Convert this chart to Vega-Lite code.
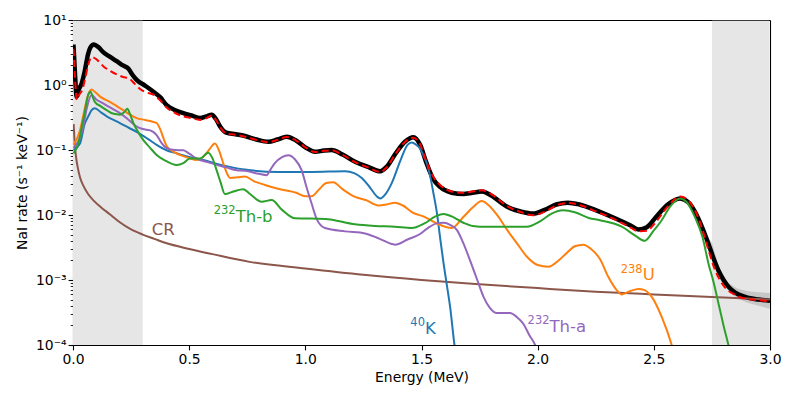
{
  "$schema": "https://vega.github.io/schema/vega-lite/v6.json",
  "width": 697,
  "height": 325,
  "autosize": {"type": "none"},
  "padding": {"left": 73, "top": 20, "right": 23, "bottom": 52},
  "background": "white",
  "config": {
    "font": "DejaVu Sans",
    "view": {"stroke": null},
    "axis": {"grid": false, "domainColor": "#000", "tickColor": "#000", "labelColor": "#000", "titleColor": "#000", "labelFont": "DejaVu Sans", "titleFont": "DejaVu Sans", "labelFontSize": 13.9, "titleFontSize": 13.9, "titleFontWeight": "normal", "domainWidth": 1.1, "tickWidth": 1.1, "zindex": 1}
  },
  "datasets": {
    "shade": [
      {"E": 0, "E2": 0.3, "v": 0.0001, "v2": 9.7},
      {"E": 2.75, "E2": 2.997, "v": 0.0001, "v2": 9.7}
    ],
    "band": [
      {"E": 2.72, "v": 0.0044, "v2": 0.0052},
      {"E": 2.75, "v": 0.0030, "v2": 0.0038},
      {"E": 2.78, "v": 0.00122, "v2": 0.00158},
      {"E": 2.82, "v": 0.00068, "v2": 0.0009},
      {"E": 2.86, "v": 0.00052, "v2": 0.00074},
      {"E": 2.9, "v": 0.00045, "v2": 0.00068},
      {"E": 2.95, "v": 0.0004, "v2": 0.00065},
      {"E": 3.0, "v": 0.00036, "v2": 0.00063}
    ],
    "total": [
      {"E":0.002,"v":4.2},{"E":0.008,"v":1.6},{"E":0.016,"v":0.66},{"E":0.025,"v":0.85},{"E":0.037,"v":1.05},{"E":0.05,"v":1.6},{"E":0.065,"v":3.0},{"E":0.075,"v":3.8},{"E":0.09,"v":4.2},{"E":0.11,"v":3.8},{"E":0.13,"v":3.2},{"E":0.16,"v":2.7},{"E":0.19,"v":2.3},{"E":0.215,"v":2.0},{"E":0.238,"v":1.8},{"E":0.255,"v":1.45},{"E":0.274,"v":1.2},{"E":0.31,"v":0.98},{"E":0.346,"v":0.79},{"E":0.375,"v":0.65},{"E":0.403,"v":0.49},{"E":0.44,"v":0.41},{"E":0.475,"v":0.37},{"E":0.51,"v":0.34},{"E":0.547,"v":0.31},{"E":0.575,"v":0.33},{"E":0.597,"v":0.35},{"E":0.615,"v":0.3},{"E":0.633,"v":0.23},{"E":0.66,"v":0.185},{"E":0.7,"v":0.175},{"E":0.74,"v":0.164},{"E":0.79,"v":0.145},{"E":0.841,"v":0.134},{"E":0.88,"v":0.145},{"E":0.92,"v":0.16},{"E":0.96,"v":0.14},{"E":1.0,"v":0.11},{"E":1.042,"v":0.094},{"E":1.08,"v":0.098},{"E":1.113,"v":0.1},{"E":1.16,"v":0.085},{"E":1.214,"v":0.066},{"E":1.27,"v":0.055},{"E":1.322,"v":0.047},{"E":1.35,"v":0.055},{"E":1.39,"v":0.09},{"E":1.43,"v":0.135},{"E":1.465,"v":0.157},{"E":1.494,"v":0.12},{"E":1.52,"v":0.065},{"E":1.55,"v":0.036},{"E":1.58,"v":0.027},{"E":1.63,"v":0.022},{"E":1.68,"v":0.021},{"E":1.72,"v":0.022},{"E":1.76,"v":0.023},{"E":1.8,"v":0.02},{"E":1.867,"v":0.0135},{"E":1.93,"v":0.0112},{"E":1.981,"v":0.0105},{"E":2.03,"v":0.012},{"E":2.08,"v":0.0145},{"E":2.13,"v":0.0155},{"E":2.18,"v":0.0145},{"E":2.247,"v":0.012},{"E":2.333,"v":0.0089},{"E":2.4,"v":0.0069},{"E":2.434,"v":0.006},{"E":2.47,"v":0.0065},{"E":2.505,"v":0.0089},{"E":2.56,"v":0.0145},{"E":2.613,"v":0.018},{"E":2.65,"v":0.0155},{"E":2.677,"v":0.0112},{"E":2.71,"v":0.0062},{"E":2.735,"v":0.0036},{"E":2.758,"v":0.0021},{"E":2.778,"v":0.0014},{"E":2.8,"v":0.001},{"E":2.821,"v":0.00079},{"E":2.85,"v":0.00064},{"E":2.893,"v":0.00055},{"E":2.95,"v":0.0005},{"E":3.0,"v":0.00048}
    ],
    "measured": [
      {"E":0.002,"v":3.6},{"E":0.008,"v":1.4},{"E":0.017,"v":0.59},{"E":0.028,"v":0.72},{"E":0.04,"v":0.84},{"E":0.055,"v":1.4},{"E":0.068,"v":2.2},{"E":0.08,"v":2.7},{"E":0.1,"v":2.5},{"E":0.13,"v":1.95},{"E":0.16,"v":1.65},{"E":0.19,"v":1.45},{"E":0.215,"v":1.33},{"E":0.24,"v":1.27},{"E":0.265,"v":1.05},{"E":0.29,"v":0.86},{"E":0.32,"v":0.76},{"E":0.35,"v":0.7},{"E":0.375,"v":0.58},{"E":0.403,"v":0.45},{"E":0.44,"v":0.37},{"E":0.475,"v":0.33},{"E":0.51,"v":0.31},{"E":0.547,"v":0.29},{"E":0.575,"v":0.31},{"E":0.597,"v":0.34},{"E":0.615,"v":0.29},{"E":0.633,"v":0.225},{"E":0.66,"v":0.18},{"E":0.7,"v":0.172},{"E":0.74,"v":0.16},{"E":0.79,"v":0.143},{"E":0.841,"v":0.132},{"E":0.88,"v":0.143},{"E":0.92,"v":0.158},{"E":0.96,"v":0.14},{"E":1.0,"v":0.11},{"E":1.042,"v":0.093},{"E":1.08,"v":0.097},{"E":1.113,"v":0.099},{"E":1.16,"v":0.084},{"E":1.214,"v":0.065},{"E":1.27,"v":0.054},{"E":1.322,"v":0.046},{"E":1.35,"v":0.054},{"E":1.39,"v":0.089},{"E":1.43,"v":0.134},{"E":1.465,"v":0.155},{"E":1.494,"v":0.122},{"E":1.52,"v":0.068},{"E":1.55,"v":0.039},{"E":1.58,"v":0.029},{"E":1.63,"v":0.023},{"E":1.68,"v":0.022},{"E":1.72,"v":0.023},{"E":1.76,"v":0.024},{"E":1.8,"v":0.021},{"E":1.867,"v":0.0138},{"E":1.93,"v":0.011},{"E":1.981,"v":0.0099},{"E":2.03,"v":0.0112},{"E":2.08,"v":0.014},{"E":2.13,"v":0.0153},{"E":2.18,"v":0.0143},{"E":2.247,"v":0.0115},{"E":2.333,"v":0.0085},{"E":2.4,"v":0.0064},{"E":2.434,"v":0.0056},{"E":2.47,"v":0.0057},{"E":2.505,"v":0.0075},{"E":2.56,"v":0.0135},{"E":2.613,"v":0.0193},{"E":2.65,"v":0.0165},{"E":2.677,"v":0.0118},{"E":2.71,"v":0.0058},{"E":2.735,"v":0.0029},{"E":2.758,"v":0.0016},{"E":2.778,"v":0.0011},{"E":2.8,"v":0.00082},{"E":2.85,"v":0.00059},{"E":2.9,"v":0.00051},{"E":2.95,"v":0.00049},{"E":3.0,"v":0.00047}
    ],
    "components": [
      {"s":"CR","E":0.003,"v":0.25},{"s":"CR","E":0.006,"v":0.15},{"s":"CR","E":0.01,"v":0.1},{"s":"CR","E":0.015,"v":0.07},{"s":"CR","E":0.02,"v":0.055},{"s":"CR","E":0.03,"v":0.038},{"s":"CR","E":0.045,"v":0.028},{"s":"CR","E":0.065,"v":0.021},{"s":"CR","E":0.09,"v":0.0165},{"s":"CR","E":0.12,"v":0.0132},{"s":"CR","E":0.16,"v":0.0102},{"s":"CR","E":0.2,"v":0.0078},{"s":"CR","E":0.25,"v":0.006},{"s":"CR","E":0.3,"v":0.005},{"s":"CR","E":0.35,"v":0.0043},{"s":"CR","E":0.4,"v":0.0037},{"s":"CR","E":0.5,"v":0.003},{"s":"CR","E":0.6,"v":0.0025},{"s":"CR","E":0.76,"v":0.0019},{"s":"CR","E":1.0,"v":0.0015},{"s":"CR","E":1.25,"v":0.0012},{"s":"CR","E":1.5,"v":0.001},{"s":"CR","E":1.75,"v":0.00086},{"s":"CR","E":2.0,"v":0.00075},{"s":"CR","E":2.25,"v":0.00066},{"s":"CR","E":2.5,"v":0.0006},{"s":"CR","E":2.75,"v":0.00055},{"s":"CR","E":3.0,"v":0.0005},
      {"s":"K","E":0.002,"v":0.1},{"s":"K","E":0.03,"v":0.126},{"s":"K","E":0.05,"v":0.25},{"s":"K","E":0.066,"v":0.33},{"s":"K","E":0.08,"v":0.41},{"s":"K","E":0.094,"v":0.44},{"s":"K","E":0.12,"v":0.38},{"s":"K","E":0.145,"v":0.33},{"s":"K","E":0.175,"v":0.29},{"s":"K","E":0.202,"v":0.26},{"s":"K","E":0.24,"v":0.22},{"s":"K","E":0.274,"v":0.19},{"s":"K","E":0.32,"v":0.15},{"s":"K","E":0.36,"v":0.12},{"s":"K","E":0.4,"v":0.1},{"s":"K","E":0.446,"v":0.089},{"s":"K","E":0.5,"v":0.078},{"s":"K","E":0.561,"v":0.07},{"s":"K","E":0.62,"v":0.061},{"s":"K","E":0.676,"v":0.055},{"s":"K","E":0.74,"v":0.05},{"s":"K","E":0.884,"v":0.046},{"s":"K","E":1.027,"v":0.046},{"s":"K","E":1.171,"v":0.047},{"s":"K","E":1.21,"v":0.044},{"s":"K","E":1.243,"v":0.037},{"s":"K","E":1.28,"v":0.026},{"s":"K","E":1.31,"v":0.019},{"s":"K","E":1.322,"v":0.018},{"s":"K","E":1.345,"v":0.021},{"s":"K","E":1.372,"v":0.031},{"s":"K","E":1.41,"v":0.07},{"s":"K","E":1.44,"v":0.12},{"s":"K","E":1.458,"v":0.13},{"s":"K","E":1.475,"v":0.122},{"s":"K","E":1.494,"v":0.105},{"s":"K","E":1.51,"v":0.08},{"s":"K","E":1.523,"v":0.062},{"s":"K","E":1.537,"v":0.04},{"s":"K","E":1.551,"v":0.022},{"s":"K","E":1.566,"v":0.011},{"s":"K","E":1.58,"v":0.0045},{"s":"K","E":1.595,"v":0.0018},{"s":"K","E":1.61,"v":0.0008},{"s":"K","E":1.623,"v":0.00039},{"s":"K","E":1.642,"v":0.0001},{"s":"K","E":1.66,"v":0.00004},
      {"s":"U","E":0.002,"v":0.12},{"s":"U","E":0.03,"v":0.2},{"s":"U","E":0.045,"v":0.35},{"s":"U","E":0.059,"v":0.59},{"s":"U","E":0.07,"v":0.78},{"s":"U","E":0.08,"v":0.85},{"s":"U","E":0.095,"v":0.78},{"s":"U","E":0.12,"v":0.65},{"s":"U","E":0.159,"v":0.55},{"s":"U","E":0.19,"v":0.47},{"s":"U","E":0.216,"v":0.41},{"s":"U","E":0.245,"v":0.35},{"s":"U","E":0.274,"v":0.31},{"s":"U","E":0.31,"v":0.29},{"s":"U","E":0.346,"v":0.27},{"s":"U","E":0.36,"v":0.26},{"s":"U","E":0.375,"v":0.21},{"s":"U","E":0.39,"v":0.15},{"s":"U","E":0.403,"v":0.115},{"s":"U","E":0.43,"v":0.095},{"s":"U","E":0.46,"v":0.084},{"s":"U","E":0.5,"v":0.075},{"s":"U","E":0.532,"v":0.07},{"s":"U","E":0.56,"v":0.078},{"s":"U","E":0.585,"v":0.1},{"s":"U","E":0.611,"v":0.126},{"s":"U","E":0.63,"v":0.095},{"s":"U","E":0.647,"v":0.062},{"s":"U","E":0.665,"v":0.042},{"s":"U","E":0.676,"v":0.037},{"s":"U","E":0.71,"v":0.038},{"s":"U","E":0.74,"v":0.039},{"s":"U","E":0.78,"v":0.033},{"s":"U","E":0.826,"v":0.029},{"s":"U","E":0.87,"v":0.026},{"s":"U","E":0.912,"v":0.024},{"s":"U","E":0.96,"v":0.022},{"s":"U","E":1.0,"v":0.0195},{"s":"U","E":1.027,"v":0.0195},{"s":"U","E":1.06,"v":0.025},{"s":"U","E":1.09,"v":0.031},{"s":"U","E":1.12,"v":0.032},{"s":"U","E":1.16,"v":0.025},{"s":"U","E":1.214,"v":0.019},{"s":"U","E":1.26,"v":0.017},{"s":"U","E":1.314,"v":0.014},{"s":"U","E":1.35,"v":0.0145},{"s":"U","E":1.386,"v":0.0155},{"s":"U","E":1.42,"v":0.014},{"s":"U","E":1.46,"v":0.011},{"s":"U","E":1.515,"v":0.0093},{"s":"U","E":1.566,"v":0.0074},{"s":"U","E":1.63,"v":0.0063},{"s":"U","E":1.68,"v":0.0093},{"s":"U","E":1.72,"v":0.013},{"s":"U","E":1.759,"v":0.0164},{"s":"U","E":1.79,"v":0.014},{"s":"U","E":1.83,"v":0.0095},{"s":"U","E":1.867,"v":0.006},{"s":"U","E":1.91,"v":0.0037},{"s":"U","E":1.953,"v":0.0023},{"s":"U","E":2.0,"v":0.0017},{"s":"U","E":2.046,"v":0.0016},{"s":"U","E":2.09,"v":0.002},{"s":"U","E":2.125,"v":0.0026},{"s":"U","E":2.16,"v":0.0033},{"s":"U","E":2.196,"v":0.0035},{"s":"U","E":2.23,"v":0.003},{"s":"U","E":2.268,"v":0.0021},{"s":"U","E":2.305,"v":0.0011},{"s":"U","E":2.34,"v":0.0007},{"s":"U","E":2.362,"v":0.0006},{"s":"U","E":2.4,"v":0.00068},{"s":"U","E":2.434,"v":0.00073},{"s":"U","E":2.46,"v":0.0007},{"s":"U","E":2.491,"v":0.00055},{"s":"U","E":2.534,"v":0.00027},{"s":"U","E":2.577,"v":0.0001},{"s":"U","E":2.6,"v":0.00005},
      {"s":"Th-a","E":0.002,"v":0.107},{"s":"Th-a","E":0.044,"v":0.23},{"s":"Th-a","E":0.06,"v":0.45},{"s":"Th-a","E":0.08,"v":0.7},{"s":"Th-a","E":0.1,"v":0.6},{"s":"Th-a","E":0.13,"v":0.52},{"s":"Th-a","E":0.165,"v":0.44},{"s":"Th-a","E":0.202,"v":0.37},{"s":"Th-a","E":0.24,"v":0.29},{"s":"Th-a","E":0.274,"v":0.23},{"s":"Th-a","E":0.3,"v":0.21},{"s":"Th-a","E":0.332,"v":0.2},{"s":"Th-a","E":0.345,"v":0.19},{"s":"Th-a","E":0.36,"v":0.17},{"s":"Th-a","E":0.38,"v":0.13},{"s":"Th-a","E":0.403,"v":0.107},{"s":"Th-a","E":0.44,"v":0.1},{"s":"Th-a","E":0.475,"v":0.099},{"s":"Th-a","E":0.5,"v":0.088},{"s":"Th-a","E":0.532,"v":0.074},{"s":"Th-a","E":0.58,"v":0.065},{"s":"Th-a","E":0.618,"v":0.059},{"s":"Th-a","E":0.66,"v":0.054},{"s":"Th-a","E":0.704,"v":0.049},{"s":"Th-a","E":0.74,"v":0.048},{"s":"Th-a","E":0.8,"v":0.043},{"s":"Th-a","E":0.833,"v":0.041},{"s":"Th-a","E":0.85,"v":0.05},{"s":"Th-a","E":0.869,"v":0.063},{"s":"Th-a","E":0.9,"v":0.078},{"s":"Th-a","E":0.927,"v":0.083},{"s":"Th-a","E":0.955,"v":0.072},{"s":"Th-a","E":0.984,"v":0.049},{"s":"Th-a","E":1.005,"v":0.027},{"s":"Th-a","E":1.027,"v":0.015},{"s":"Th-a","E":1.05,"v":0.0085},{"s":"Th-a","E":1.085,"v":0.0063},{"s":"Th-a","E":1.171,"v":0.0056},{"s":"Th-a","E":1.257,"v":0.0052},{"s":"Th-a","E":1.32,"v":0.0043},{"s":"Th-a","E":1.386,"v":0.0035},{"s":"Th-a","E":1.44,"v":0.0042},{"s":"Th-a","E":1.494,"v":0.0051},{"s":"Th-a","E":1.53,"v":0.0064},{"s":"Th-a","E":1.57,"v":0.0075},{"s":"Th-a","E":1.595,"v":0.0076},{"s":"Th-a","E":1.625,"v":0.007},{"s":"Th-a","E":1.652,"v":0.0059},{"s":"Th-a","E":1.68,"v":0.0037},{"s":"Th-a","E":1.709,"v":0.002},{"s":"Th-a","E":1.74,"v":0.001},{"s":"Th-a","E":1.767,"v":0.00055},{"s":"Th-a","E":1.795,"v":0.00037},{"s":"Th-a","E":1.824,"v":0.00031},{"s":"Th-a","E":1.881,"v":0.00031},{"s":"Th-a","E":1.91,"v":0.00027},{"s":"Th-a","E":1.939,"v":0.00021},{"s":"Th-a","E":1.965,"v":0.00014},{"s":"Th-a","E":1.989,"v":0.0001},{"s":"Th-a","E":2.01,"v":0.00006},
      {"s":"Th-b","E":0.002,"v":0.089},{"s":"Th-b","E":0.023,"v":0.126},{"s":"Th-b","E":0.04,"v":0.25},{"s":"Th-b","E":0.05,"v":0.37},{"s":"Th-b","E":0.065,"v":0.7},{"s":"Th-b","E":0.076,"v":0.79},{"s":"Th-b","E":0.085,"v":0.65},{"s":"Th-b","E":0.094,"v":0.55},{"s":"Th-b","E":0.12,"v":0.47},{"s":"Th-b","E":0.145,"v":0.41},{"s":"Th-b","E":0.175,"v":0.36},{"s":"Th-b","E":0.202,"v":0.35},{"s":"Th-b","E":0.22,"v":0.38},{"s":"Th-b","E":0.234,"v":0.43},{"s":"Th-b","E":0.245,"v":0.36},{"s":"Th-b","E":0.26,"v":0.26},{"s":"Th-b","E":0.28,"v":0.19},{"s":"Th-b","E":0.303,"v":0.142},{"s":"Th-b","E":0.33,"v":0.11},{"s":"Th-b","E":0.36,"v":0.084},{"s":"Th-b","E":0.4,"v":0.068},{"s":"Th-b","E":0.446,"v":0.059},{"s":"Th-b","E":0.475,"v":0.063},{"s":"Th-b","E":0.503,"v":0.074},{"s":"Th-b","E":0.547,"v":0.074},{"s":"Th-b","E":0.582,"v":0.091},{"s":"Th-b","E":0.6,"v":0.075},{"s":"Th-b","E":0.618,"v":0.049},{"s":"Th-b","E":0.635,"v":0.032},{"s":"Th-b","E":0.654,"v":0.021},{"s":"Th-b","E":0.69,"v":0.023},{"s":"Th-b","E":0.733,"v":0.025},{"s":"Th-b","E":0.762,"v":0.021},{"s":"Th-b","E":0.812,"v":0.016},{"s":"Th-b","E":0.855,"v":0.017},{"s":"Th-b","E":0.9,"v":0.012},{"s":"Th-b","E":0.956,"v":0.0089},{"s":"Th-b","E":1.085,"v":0.0087},{"s":"Th-b","E":1.214,"v":0.0072},{"s":"Th-b","E":1.3,"v":0.0068},{"s":"Th-b","E":1.386,"v":0.0066},{"s":"Th-b","E":1.458,"v":0.0063},{"s":"Th-b","E":1.515,"v":0.0075},{"s":"Th-b","E":1.56,"v":0.0095},{"s":"Th-b","E":1.595,"v":0.0104},{"s":"Th-b","E":1.63,"v":0.0095},{"s":"Th-b","E":1.68,"v":0.0076},{"s":"Th-b","E":1.72,"v":0.0068},{"s":"Th-b","E":1.781,"v":0.0066},{"s":"Th-b","E":1.87,"v":0.0066},{"s":"Th-b","E":1.953,"v":0.0066},{"s":"Th-b","E":2.01,"v":0.008},{"s":"Th-b","E":2.06,"v":0.0105},{"s":"Th-b","E":2.11,"v":0.0118},{"s":"Th-b","E":2.16,"v":0.011},{"s":"Th-b","E":2.22,"v":0.009},{"s":"Th-b","E":2.268,"v":0.0083},{"s":"Th-b","E":2.362,"v":0.0066},{"s":"Th-b","E":2.42,"v":0.0048},{"s":"Th-b","E":2.46,"v":0.004},{"s":"Th-b","E":2.5,"v":0.0058},{"s":"Th-b","E":2.534,"v":0.0083},{"s":"Th-b","E":2.57,"v":0.0135},{"s":"Th-b","E":2.613,"v":0.018},{"s":"Th-b","E":2.64,"v":0.016},{"s":"Th-b","E":2.677,"v":0.0093},{"s":"Th-b","E":2.71,"v":0.0045},{"s":"Th-b","E":2.735,"v":0.0018},{"s":"Th-b","E":2.758,"v":0.0009},{"s":"Th-b","E":2.778,"v":0.00044},{"s":"Th-b","E":2.8,"v":0.0002},{"s":"Th-b","E":2.821,"v":0.0001},{"s":"Th-b","E":2.84,"v":0.00005}
    ],
    "labels": [
      {"s":"CR","sup":"","main":"CR","E":0.339,"v":0.0049},
      {"s":"Th-b","sup":"232","main":"Th-b","E":0.70,"v":0.0079},
      {"s":"K","sup":"40","main":"K","E":1.515,"v":0.000148},
      {"s":"Th-a","sup":"232","main":"Th-a","E":2.051,"v":0.00016},
      {"s":"U","sup":"238","main":"U","E":2.452,"v":0.001}
    ]
  },
  "resolve": {"axis": {"x": "independent", "y": "independent"}},
  "layer": [
    {
      "data": {"name": "shade"},
      "mark": {"type": "rect", "color": "#e6e6e6"},
      "encoding": {
        "x": {"field": "E", "type": "quantitative", "scale": {"domain": [0, 3], "nice": false, "zero": false},
          "axis": {"orient": "top", "title": null, "labels": false, "ticks": false, "domain": true}},
        "x2": {"field": "E2"},
        "y": {"field": "v", "type": "quantitative", "scale": {"type": "log", "domain": [0.0001, 10], "nice": false},
          "axis": {"orient": "right", "title": null, "labels": false, "ticks": false, "domain": true}},
        "y2": {"field": "v2"}
      }
    },
    {
      "encoding": {
        "x": {"field": "E", "type": "quantitative", "scale": {"domain": [0, 3], "nice": false, "zero": false},
          "axis": {"title": "Energy (MeV)", "values": [0, 0.5, 1, 1.5, 2, 2.5, 3], "format": ".1f", "tickSize": 4.9, "labelPadding": 3, "titlePadding": 4, "labelFlush": false}},
        "y": {"field": "v", "type": "quantitative", "scale": {"type": "log", "domain": [0.0001, 10], "nice": false},
          "axis": {"title": "NaI rate (s⁻¹ keV⁻¹)", "titlePadding": 6, "labelPadding": 2, "labelFlush": false,
            "values": [0.0001,0.0002,0.0003,0.0004,0.0005,0.0006,0.0007,0.0008,0.0009,0.001,0.002,0.003,0.004,0.005,0.006,0.007,0.008,0.009,0.01,0.02,0.03,0.04,0.05,0.06,0.07,0.08,0.09,0.1,0.2,0.3,0.4,0.5,0.6,0.7,0.8,0.9,1,2,3,4,5,6,7,8,9,10],
            "labelExpr": "datum.value==10?'10¹':datum.value==1?'10⁰':datum.value==0.1?'10⁻¹':datum.value==0.01?'10⁻²':datum.value==0.001?'10⁻³':datum.value==0.0001?'10⁻⁴':''",
            "tickSize": {"condition": {"test": "indexof([0.0001,0.001,0.01,0.1,1,10], datum.value) >= 0", "value": 4.9}, "value": 2.8},
            "tickWidth": {"condition": {"test": "indexof([0.0001,0.001,0.01,0.1,1,10], datum.value) >= 0", "value": 1.1}, "value": 0.85}
          }}
      },
      "layer": [
        {"data": {"name": "band"}, "mark": {"type": "area", "color": "#808080", "opacity": 0.3, "clip": true},
         "encoding": {"y2": {"field": "v2"}}},
        {"data": {"name": "total"}, "mark": {"type": "line", "color": "#000000", "strokeWidth": 4.5, "interpolate": "monotone", "clip": true}},
        {"data": {"name": "components"}, "mark": {"type": "line", "strokeWidth": 2, "interpolate": "monotone", "clip": true},
         "encoding": {"color": {"field": "s", "type": "nominal", "scale": {"domain": ["CR", "K", "U", "Th-a", "Th-b"], "range": ["#8c564b", "#1f77b4", "#ff7f0e", "#9467bd", "#2ca02c"]}, "legend": null}}},
        {"data": {"name": "measured"}, "mark": {"type": "line", "color": "#ff0000", "strokeWidth": 2, "strokeDash": [7, 4], "interpolate": "monotone", "clip": true}},
        {"data": {"name": "labels"}, "mark": {"type": "text", "align": "right", "baseline": "alphabetic", "fontSize": 11.5, "dy": -7.5, "font": "DejaVu Sans"},
         "encoding": {"text": {"field": "sup"}, "color": {"field": "s", "type": "nominal", "scale": {"domain": ["CR", "K", "U", "Th-a", "Th-b"], "range": ["#8c564b", "#1f77b4", "#ff7f0e", "#9467bd", "#2ca02c"]}, "legend": null}}},
        {"data": {"name": "labels"}, "mark": {"type": "text", "align": "left", "baseline": "alphabetic", "fontSize": 16.5, "font": "DejaVu Sans"},
         "encoding": {"text": {"field": "main"}, "color": {"field": "s", "type": "nominal", "scale": {"domain": ["CR", "K", "U", "Th-a", "Th-b"], "range": ["#8c564b", "#1f77b4", "#ff7f0e", "#9467bd", "#2ca02c"]}, "legend": null}}}
      ]
    }
  ]
}
